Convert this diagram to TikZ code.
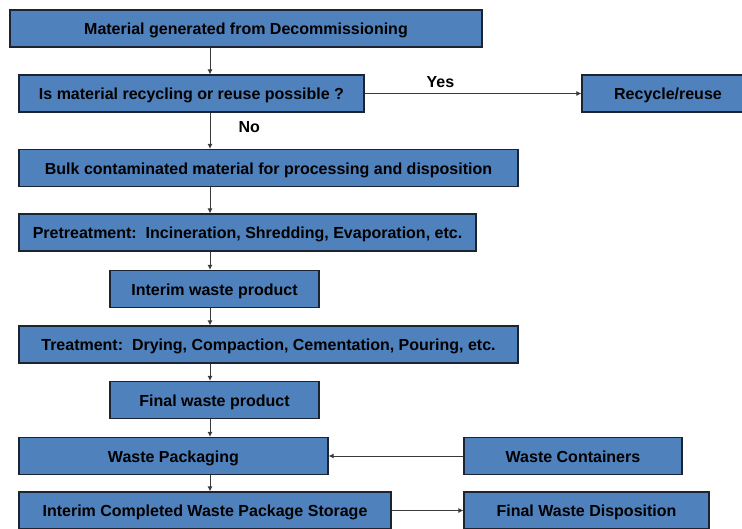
\documentclass[tikz,border=0pt]{standalone}
\usepackage{fontspec}
\setmainfont{Liberation Sans}
\usepackage{xcolor}
\usepackage{tikz}
\usetikzlibrary{arrows.meta, positioning}

\definecolor{boxblue}{HTML}{4F81BD}
\definecolor{boxedge}{HTML}{1C2333}
\definecolor{linegray}{HTML}{3A3A3A}

\tikzset{
    procbox/.style={draw=boxedge, line width=1.1pt, fill=boxblue, inner sep=0pt, minimum height=37pt,
        text height=13pt, text depth=0.2pt, font=\bfseries\fontsize{16}{18}\selectfont},
    flow/.style={-{Latex[length=5pt, width=5pt]}, line width=1pt, draw=linegray},
    flowlabel/.style={font=\bfseries\fontsize{16}{18}\selectfont, inner sep=1pt}
}

\begin{document}
\begin{tikzpicture}[x=1pt, y=-1pt]
    \useasboundingbox (0,0) rectangle (742,528);
    % main column
    \coordinate (spine) at (210,0);
    \node[procbox, minimum width=472pt] (gen) at (246,28.5) {Material generated from Decommissioning};
    \node[procbox, minimum width=345pt] (ask) at (191.5,93.5) {Is material recycling or reuse possible ?};
    \node[procbox, minimum width=172pt] (recycle) at (668,93.5) {Recycle/reuse};
    \node[procbox, minimum width=499pt] (bulk) at (268.5,168) {Bulk contaminated material for processing and disposition};
    \node[procbox, minimum width=457pt] (pretreat) at (247.5,232.5) {Pretreatment:\ \ Incineration, Shredding, Evaporation, etc.};
    \node[procbox, minimum width=209pt] (interim) at (214.5,289) {Interim waste product};
    \node[procbox, minimum width=499pt] (treat) at (268.5,344.5) {Treatment:\ \ Drying, Compaction, Cementation, Pouring, etc.};
    \node[procbox, minimum width=209pt] (final) at (214.5,400) {Final waste product};
    % packaging and storage
    \node[procbox, minimum width=309pt] (pack) at (173.5,456) {Waste Packaging};
    \node[procbox, minimum width=218pt] (contain) at (573,456) {Waste Containers};
    \node[procbox, minimum width=372pt] (store) at (205,510.5) {Interim Completed Waste Package Storage};
    \node[procbox, minimum width=245pt] (dispose) at (586.5,510.5) {Final Waste Disposition};

    % Connectors
    \draw[flow] (gen.south -| spine) -- (ask.north -| spine);
    \draw[flow] (ask) -- node[flowlabel, pos=0.35, above=4pt] {Yes} (recycle);
    \draw[flow] (ask.south -| spine) -- node[flowlabel, pos=0.4, right=27pt] {No} (bulk.north -| spine);
    \draw[flow] (bulk.south -| spine) -- (pretreat.north -| spine);
    \draw[flow] (pretreat.south -| spine) -- (interim.north -| spine);
    \draw[flow] (interim.south -| spine) -- (treat.north -| spine);
    \draw[flow] (treat.south -| spine) -- (final.north -| spine);
    \draw[flow] (final.south -| spine) -- (pack.north -| spine);
    \draw[flow] (contain) -- (pack);
    \draw[flow] (pack.south -| spine) -- (store.north -| spine);
    \draw[flow] (store) -- (dispose);
\end{tikzpicture}
\end{document}
